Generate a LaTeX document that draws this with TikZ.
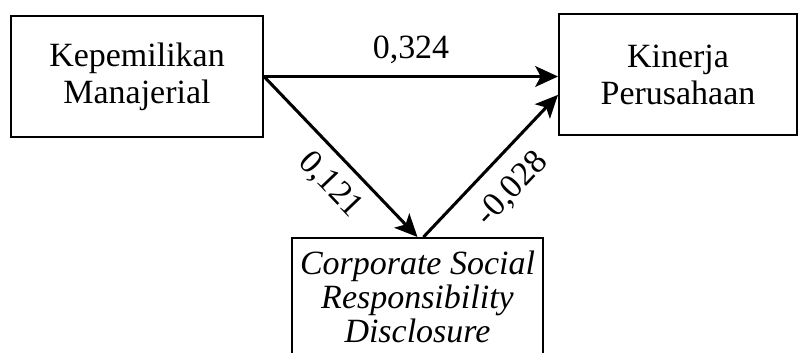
\documentclass[tikz,border=0pt]{standalone}
\usepackage{fontspec}
\setmainfont{Liberation Serif}
\usetikzlibrary{arrows.meta,positioning,calc}
\tikzset{
  var/.style={draw,line width=1.7pt,align=center,font=\fontsize{29}{31.5}\selectfont,inner sep=0pt},
  arr/.style={-{Stealth[length=6.8mm,width=6.2mm,inset=1.6mm]},line width=2.6pt},
  coef/.style={font=\fontsize{29}{31}\selectfont,inner sep=0pt},
}
\begin{document}
\begin{tikzpicture}[x=0.03cm,y=-0.03cm]
\useasboundingbox (0,0) rectangle (800,352);
% variables
\node[var,minimum width=7.56cm,minimum height=3.63cm] (kep) at (137,76.5) {Kepemilikan\\Manajerial};
\node[var,minimum width=7.14cm,minimum height=3.63cm] (kin) at (678,74.5) {Kinerja\\Perusahaan};
\node[var,font=\fontsize{29}{29}\selectfont,minimum width=7.53cm,anchor=north,inner ysep=0.38cm] (csr) at (417.5,237) {\itshape Corporate Social\\\itshape Responsibility\\\itshape Disclosure};
% paths
\draw[arr] (kep.east) -- node[coef,above=10pt] (c1) {0,324} (kep.east -| kin.west);
\draw[arr] (kep.east) -- node[coef,sloped,below=10pt,pos=0.56] (c2) {0,121} (csr.north);
\draw[arr] ([xshift=0.18cm]csr.north) -- node[coef,sloped,below=14pt,pos=0.49] (c3) {-0,028} ([yshift=-0.61cm]kin.west);
\end{tikzpicture}
\end{document}
